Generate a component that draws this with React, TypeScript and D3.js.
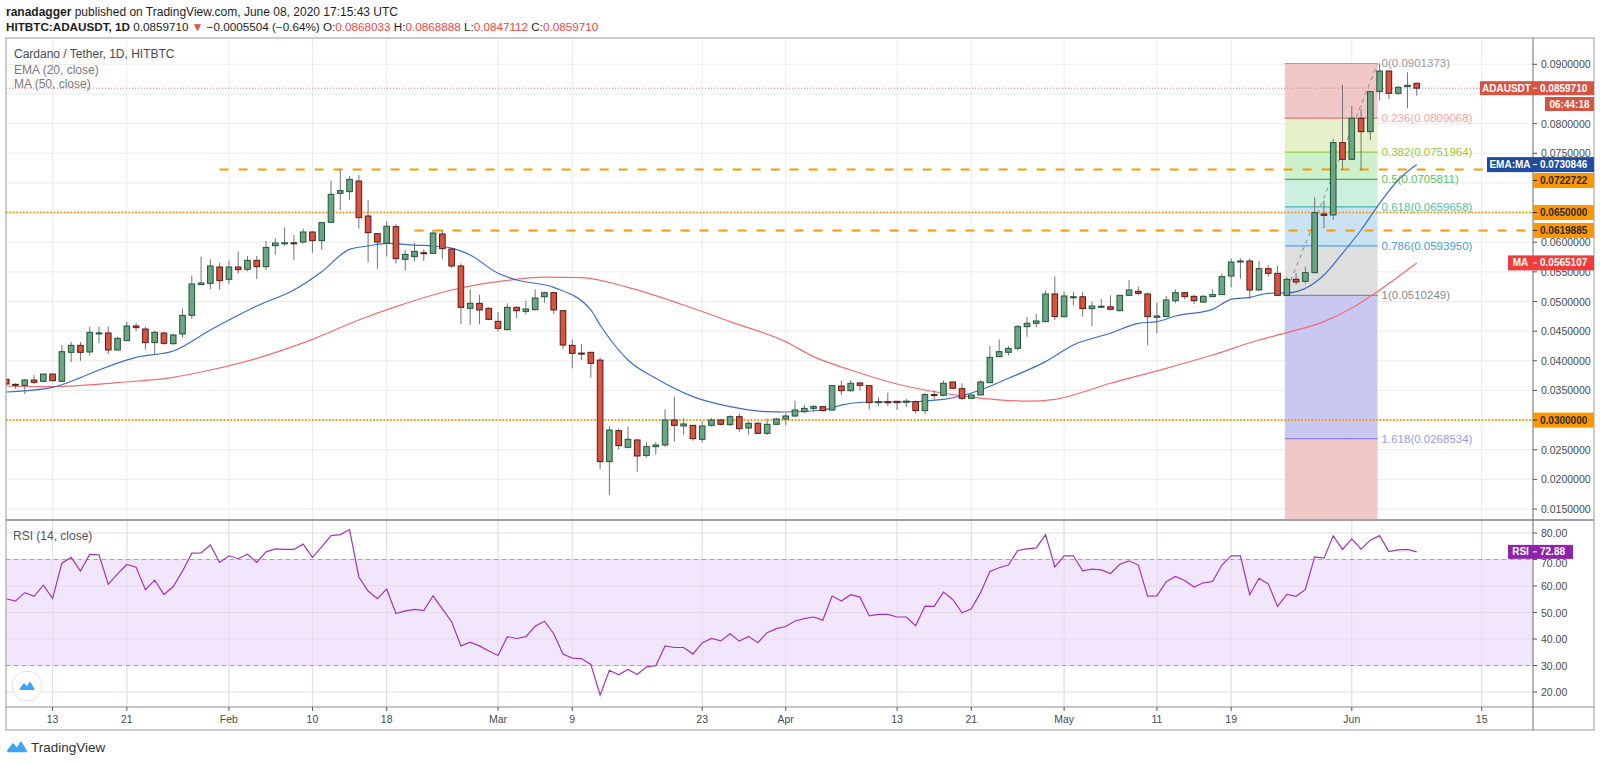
import React from 'react';
import * as d3 from 'd3';

// ---------- DATA ----------
const START = Date.UTC(2020, 0, 8);
const DAY = 86400000;

const open = [
  0.03687, 0.03603, 0.03586, 0.03676, 0.03654, 0.03777, 0.03654, 0.04143, 0.04261, 0.04149,
  0.04465, 0.04469, 0.04182, 0.0434, 0.04587, 0.04536, 0.04306, 0.04469, 0.04289, 0.04452,
  0.04767, 0.05284, 0.05306, 0.05582, 0.05374, 0.05582, 0.05543, 0.05694, 0.05587, 0.05941,
  0.0598, 0.0599, 0.06003, 0.06172, 0.06026, 0.06335, 0.06824, 0.06852, 0.07032, 0.06442,
  0.06144, 0.05986, 0.06262, 0.05711, 0.05756, 0.05823, 0.05812, 0.06138, 0.05885, 0.05599,
  0.04885, 0.04969, 0.04885, 0.04666, 0.04525, 0.04902, 0.04834, 0.04862, 0.05081, 0.05149,
  0.04845, 0.04261, 0.0413, 0.04143, 0.04012, 0.02299, 0.02822, 0.02541, 0.02665, 0.02401,
  0.02552, 0.0258, 0.03002, 0.02901, 0.02912, 0.02676, 0.02912, 0.03002, 0.02923, 0.03058,
  0.02867, 0.02946, 0.02777, 0.02929, 0.03018, 0.03069, 0.03142, 0.03198, 0.03227, 0.0317,
  0.03575, 0.03496, 0.03626, 0.03581, 0.03305, 0.0331, 0.03317, 0.033, 0.0331, 0.0316,
  0.0343, 0.03418, 0.03643, 0.0353, 0.03367, 0.03424, 0.03632, 0.0407, 0.04143, 0.0421,
  0.04576, 0.04632, 0.0466, 0.05127, 0.04745, 0.0507, 0.0508, 0.0488, 0.0491, 0.0491,
  0.04846, 0.05104, 0.05172, 0.05127, 0.04733, 0.04745, 0.05014, 0.05149, 0.05087, 0.0499,
  0.05082, 0.05116, 0.0543, 0.05677, 0.05683, 0.05194, 0.05554, 0.05475, 0.05104, 0.05374,
  0.0534, 0.05486, 0.06476, 0.06459, 0.07679, 0.07398, 0.08089, 0.07864, 0.08539, 0.08887,
  0.08511, 0.08623, 0.0868033,
];
const high = [
  0.037, 0.0362, 0.03688, 0.0376, 0.0378, 0.0378, 0.04266, 0.04317, 0.04317, 0.04576,
  0.04576, 0.04576, 0.04407, 0.0466, 0.04632, 0.04576, 0.04508, 0.04491, 0.04452, 0.04879,
  0.05441, 0.05756, 0.05711, 0.05655, 0.05689, 0.05846, 0.05767, 0.05767, 0.0602, 0.06065,
  0.06251, 0.06121, 0.06228, 0.06183, 0.0633, 0.07038, 0.07229, 0.07116, 0.07133, 0.06712,
  0.0615, 0.06352, 0.06307, 0.05868, 0.05992, 0.0588, 0.06206, 0.06206, 0.05902, 0.05644,
  0.05205, 0.05115, 0.049, 0.04823, 0.04969, 0.04913, 0.05014, 0.05205, 0.05166, 0.0516,
  0.04857, 0.04362, 0.04283, 0.0415, 0.04057, 0.029, 0.02856, 0.02889, 0.02676, 0.02625,
  0.02625, 0.03182, 0.03395, 0.03035, 0.02915, 0.0298, 0.03035, 0.0302, 0.0308, 0.03114,
  0.0298, 0.02968, 0.03024, 0.03035, 0.03114, 0.03328, 0.03255, 0.03255, 0.03238, 0.03592,
  0.03665, 0.03676, 0.03643, 0.0359, 0.03384, 0.03463, 0.0332, 0.0336, 0.0333, 0.0345,
  0.035, 0.03666, 0.0365, 0.03621, 0.0343, 0.03677, 0.0425, 0.04362, 0.0425, 0.04604,
  0.04745, 0.04789, 0.05183, 0.05419, 0.05166, 0.05166, 0.05166, 0.04997, 0.05042, 0.05104,
  0.05104, 0.05363, 0.0525, 0.0515, 0.0498, 0.05093, 0.05205, 0.0516, 0.0511, 0.0511,
  0.05206, 0.05475, 0.05728, 0.05728, 0.05728, 0.05683, 0.0561, 0.05599, 0.05408, 0.0548,
  0.05588, 0.06757, 0.06701, 0.07746, 0.08651, 0.08297, 0.08241, 0.08539, 0.0901373, 0.0889,
  0.08634, 0.08865, 0.0868888,
];
const low = [
  0.0359, 0.0353, 0.0344, 0.0361, 0.0365, 0.0365, 0.0365, 0.0398, 0.04, 0.0409,
  0.043, 0.0411, 0.0418, 0.0434, 0.045, 0.0419, 0.0411, 0.0427, 0.0427, 0.0439,
  0.0471, 0.0528, 0.0521, 0.052, 0.0529, 0.0547, 0.0551, 0.0538, 0.0553, 0.0579,
  0.0594, 0.057, 0.0598, 0.0582, 0.0587, 0.0633, 0.0654, 0.0671, 0.0623, 0.0566,
  0.0555, 0.0576, 0.0564, 0.0552, 0.0568, 0.0568, 0.0581, 0.0572, 0.0557, 0.04621,
  0.04604, 0.04621, 0.04688, 0.04491, 0.0452, 0.0472, 0.0478, 0.0485, 0.0498, 0.0479,
  0.04199, 0.03873, 0.04014, 0.03716, 0.0217, 0.01737, 0.02507, 0.02524, 0.0213, 0.02372,
  0.0242, 0.02552, 0.02636, 0.02755, 0.02653, 0.02625, 0.0289, 0.02912, 0.02901, 0.02805,
  0.02755, 0.02766, 0.0275, 0.02917, 0.02912, 0.03058, 0.03114, 0.03142, 0.03148, 0.03159,
  0.03423, 0.03479, 0.03496, 0.0318, 0.03238, 0.03238, 0.0317, 0.0322, 0.0311, 0.031,
  0.0335, 0.034, 0.03519, 0.0334, 0.0335, 0.0342, 0.0362, 0.0407, 0.04093, 0.04171,
  0.04407, 0.04565, 0.0466, 0.04688, 0.04733, 0.04936, 0.04745, 0.04587, 0.0489, 0.04846,
  0.0483, 0.05093, 0.05104, 0.04261, 0.04464, 0.0474, 0.0497, 0.05037, 0.04958, 0.0498,
  0.0508, 0.0511, 0.05239, 0.05385, 0.05037, 0.05183, 0.05419, 0.05093, 0.0510249, 0.0528,
  0.053, 0.0548, 0.06234, 0.06375, 0.07218, 0.0739, 0.07207, 0.07724, 0.08387, 0.0841,
  0.08483, 0.08258, 0.0847112,
];
const close = [
  0.03609, 0.03586, 0.03676, 0.03637, 0.03777, 0.03665, 0.04154, 0.04261, 0.04143, 0.0448,
  0.0447, 0.04182, 0.04379, 0.04587, 0.04559, 0.04306, 0.0448, 0.04295, 0.04435, 0.04767,
  0.05295, 0.05312, 0.05599, 0.05352, 0.05582, 0.05537, 0.05694, 0.05587, 0.05913, 0.05986,
  0.0599, 0.05985, 0.06172, 0.06026, 0.0633, 0.06807, 0.06869, 0.0706, 0.06414, 0.06161,
  0.06003, 0.06268, 0.05722, 0.05795, 0.05846, 0.05807, 0.06155, 0.05891, 0.05599, 0.04902,
  0.04969, 0.04857, 0.04699, 0.04547, 0.04902, 0.04845, 0.04874, 0.05059, 0.05149, 0.04857,
  0.04266, 0.04126, 0.0412, 0.03957, 0.02299, 0.02833, 0.02569, 0.02676, 0.02395, 0.02552,
  0.0258, 0.03002, 0.02912, 0.02935, 0.02687, 0.02901, 0.03002, 0.02929, 0.03058, 0.02856,
  0.02946, 0.02777, 0.02929, 0.03018, 0.03069, 0.0317, 0.03198, 0.03227, 0.03159, 0.03581,
  0.03496, 0.0362, 0.03586, 0.03294, 0.03311, 0.03305, 0.03294, 0.0332, 0.0316, 0.0343,
  0.0342, 0.03621, 0.03536, 0.03367, 0.03424, 0.03643, 0.04059, 0.04154, 0.0421, 0.04576,
  0.04632, 0.04671, 0.05127, 0.04745, 0.05093, 0.0508, 0.0488, 0.04924, 0.0492, 0.04869,
  0.05104, 0.05194, 0.05138, 0.04745, 0.04756, 0.05026, 0.05149, 0.05082, 0.05014, 0.05087,
  0.05116, 0.05419, 0.05666, 0.05683, 0.05194, 0.05554, 0.05475, 0.05104, 0.05374, 0.05329,
  0.05486, 0.06498, 0.06453, 0.07679, 0.07398, 0.08089, 0.07864, 0.08539, 0.08887, 0.08511,
  0.08612, 0.08645, 0.085971,
];
const rsi = [
  55.2, 54.3, 57.5, 56.1, 60.3, 55.3, 68.6, 70.8, 65.6, 71.9,
  71.8, 60.6, 64.6, 68.1, 67.1, 58.6, 62.2, 56.8, 59.8, 65.6,
  72.4, 72.5, 75.5, 68.9, 71.4, 70.3, 72.0, 68.9, 72.9, 74.0,
  73.8, 73.8, 75.8, 70.8, 74.8, 79.0, 79.4, 81.3, 63.4, 58.1,
  55.2, 58.8, 49.6, 50.6, 51.2, 50.7, 56.3, 51.4, 46.5, 37.4,
  38.8, 37.4, 35.5, 33.8, 40.9, 40.2, 40.9, 44.8, 46.7, 42.0,
  34.3, 32.8, 32.6, 30.4, 18.8, 28.2, 26.5, 28.5, 26.6, 29.5,
  29.9, 37.4, 36.8, 36.8, 34.3, 38.5, 40.2, 39.3, 42.0, 39.2,
  41.0, 38.6, 42.4, 43.9, 44.7, 46.8, 47.7, 48.3, 47.1, 56.2,
  54.3, 56.7, 55.8, 48.7, 49.3, 49.3, 48.3, 48.3, 45.0, 52.4,
  52.3, 57.7, 54.9, 49.9, 51.4, 57.5, 65.5, 66.9, 67.9, 73.4,
  74.0, 74.4, 79.4, 67.2, 71.4, 71.4, 65.7, 66.4, 66.1, 64.7,
  68.2, 69.5, 67.9, 56.2, 56.3, 61.6, 63.6, 62.1, 59.6, 61.2,
  61.7, 67.9, 71.4, 71.4, 56.7, 62.9, 60.8, 52.3, 56.8, 56.1,
  58.7, 71.0, 70.5, 78.9, 73.8, 77.8, 73.9, 77.3, 79.0, 73.0,
  73.6, 73.8, 72.88,
];
// EMA(20): day index and value
const emaDay = [0, 5, 8, 10, 14, 18, 22, 27, 31, 34, 37, 39, 41, 44, 46, 48, 50, 53, 55, 59, 63, 64, 67, 70, 74, 78, 82, 84, 88, 90, 93, 96, 101, 105, 108, 112, 115, 119, 122, 124, 126, 130, 132, 134, 136, 138, 140, 142, 144, 146, 148, 150, 152];
const emaVal = [0.03474, 0.03553, 0.03716, 0.03845, 0.04058, 0.04165, 0.0452, 0.04924, 0.05194, 0.05503, 0.0588, 0.05936, 0.05981, 0.0595, 0.05936, 0.059, 0.05784, 0.05475, 0.05363, 0.05239, 0.04857, 0.04604, 0.04014, 0.03704, 0.03395, 0.03227, 0.03142, 0.03137, 0.0317, 0.03254, 0.03305, 0.03305, 0.03351, 0.03508, 0.03705, 0.03986, 0.04267, 0.04464, 0.04632, 0.0466, 0.04756, 0.04868, 0.05037, 0.05071, 0.05138, 0.05145, 0.05222, 0.05447, 0.05813, 0.06206, 0.06656, 0.07049, 0.0730846];
// MA(50)
const maDay = [0, 5, 12, 18, 22, 27, 33, 38, 42, 48, 53, 58, 62, 67, 73, 78, 84, 87, 91, 96, 99, 103, 107, 110, 113, 119, 125, 130, 135, 138, 142, 145, 148, 152];
const maVal = [0.03575, 0.03564, 0.03631, 0.03721, 0.03845, 0.04042, 0.04362, 0.04688, 0.04913, 0.05194, 0.05335, 0.0541, 0.05402, 0.05239, 0.04941, 0.0466, 0.04323, 0.0407, 0.03845, 0.03609, 0.03508, 0.03407, 0.0334, 0.0332, 0.03351, 0.03621, 0.03873, 0.04098, 0.04351, 0.04474, 0.0466, 0.0489, 0.05194, 0.0565107];

const xTickDates = ['2020-01-13', '2020-01-21', '2020-02-01', '2020-02-10', '2020-02-18', '2020-03-01', '2020-03-09', '2020-03-23', '2020-04-01', '2020-04-13', '2020-04-21', '2020-05-01', '2020-05-11', '2020-05-19', '2020-06-01', '2020-06-15'];
const xTickLabels = ['13', '21', 'Feb', '10', '18', 'Mar', '9', '23', 'Apr', '13', '21', 'May', '11', '19', 'Jun', '15'];
const priceTicks = [0.015, 0.02, 0.025, 0.03, 0.035, 0.04, 0.045, 0.05, 0.055, 0.06, 0.065, 0.07, 0.075, 0.08, 0.085, 0.09];
const rsiTicks = [20, 30, 40, 50, 60, 70, 80];
const fibLevels = ['0', '0.236', '0.382', '0.5', '0.618', '0.786', '1', '1.618'];
const fibPrices = [0.0901373, 0.0809068, 0.0751964, 0.0705811, 0.0659658, 0.059395, 0.0510249, 0.0268534];
const lastPrice = 0.085971;
const emaLast = 0.0730846;
const maLast = 0.0565107;
const rsiLast = 72.88;
const srLevels = [0.0722722, 0.065, 0.0619885, 0.03];

// ---------- LAYOUT ----------
const W = 1600, H = 763;
const L = 6, R = 1594, AX = 1533, TOP = 38, SEP = 520, XAX = 707, BOT = 730;
const FONT = '"Liberation Sans", Arial, sans-serif';

const dayDate = (i: number) => new Date(START + i * DAY);
const x = d3.scaleUtc().domain([new Date(Date.UTC(2020, 0, 13)), new Date(Date.UTC(2020, 5, 15))]).range([52.6, 1481.7]);
const yP = d3.scaleLinear().domain([0.015, 0.09]).range([509.05, 64.3]);
const yR = d3.scaleLinear().domain([20, 80]).range([692, 533]);

const fmtP = (v: number) => v.toFixed(7);

const UP = '#6ba583', DOWN = '#d75442', UPB = '#225437', DOWNB = '#5b1a13', WICK = '#737375';

const fibLine = ['#a0a0a0', '#e57373', '#9ccc3c', '#4caf50', '#4db6ac', '#42a5f5', '#8a8a8a', '#7070d8'];
const fibText = ['#9a9a9a', '#f2a4a4', '#9cc53c', '#58c458', '#4cc3a0', '#45a0dd', '#8a8a8a', '#9a9ae8'];
const fibFill = ['#f0c2c2', '#e3efc6', '#c8eec8', '#c6eedc', '#c4e0f2', '#dadada', '#c2c2f2', '#f0c2c2'];

const ORANGE_BOX_Y = 180.5; // 0.0722722 box pushed below the EMA:MA box

function AxisBox({ y, x0, x1 = R, label, value, bg, fg = '#fff', h = 15 }: any) {
  return (
    <g>
      <rect x={x0} y={y - h / 2} width={x1 - x0} height={h} fill={bg} />
      {label && (
        <text x={(x0 + AX) / 2} y={y + 3.6} fill={fg} fontSize={10} textAnchor="middle" fontWeight="bold">{label}</text>
      )}
      <line x1={AX} x2={AX + 4} y1={y} y2={y} stroke={fg} />
      <text x={AX + 7} y={y + 3.6} fill={fg} fontSize={10} fontWeight="bold">{value}</text>
    </g>
  );
}

function Logo({ cx, cy, s }: any) {
  return (
    <path
      d={`M${cx - 11 * s},${cy + 5 * s} L${cx - 5 * s},${cy - 3 * s} L${cx},${cy + 3 * s} L${cx + 5 * s},${cy - 5 * s} L${cx + 11 * s},${cy + 5 * s} Z`}
      fill="#3fa3f4"
      stroke="#3fa3f4"
      strokeWidth={3 * s}
      strokeLinejoin="round"
    />
  );
}

export default function App() {
  const n = open.length;
  const bw = 5.6;
  const candles = d3.range(n).map((i) => {
    const cx = x(dayDate(i));
    const up = close[i] >= open[i];
    const yt = yP(Math.max(open[i], close[i]));
    const yb = yP(Math.min(open[i], close[i]));
    return (
      <g key={i}>
        <line x1={cx} x2={cx} y1={yP(high[i])} y2={yP(low[i])} stroke={WICK} strokeWidth={1} />
        <rect x={cx - bw / 2} y={yt} width={bw} height={Math.max(1, yb - yt)} fill={up ? UP : DOWN} stroke={up ? UPB : DOWNB} strokeWidth={1} />
      </g>
    );
  });

  const emaPath = d3.line<number>().x((d, i) => x(dayDate(emaDay[i]))).y((d) => yP(d)).curve(d3.curveMonotoneX)(emaVal) || '';
  const maPath = d3.line<number>().x((d, i) => x(dayDate(maDay[i]))).y((d) => yP(d)).curve(d3.curveMonotoneX)(maVal) || '';
  const rsiPath = d3.line<number>().x((d, i) => x(dayDate(i))).y((d) => yR(d))(rsi) || '';

  const fibX0 = x(dayDate(138)) - 2;
  const fibX1 = x(dayDate(148)) - 2;

  const tickXs = xTickDates.map((s) => x(new Date(s + 'T00:00:00Z')));
  // axis tick labels hidden under the coloured price boxes (as in the reference)
  const boxYs = [yP(lastPrice), ORANGE_BOX_Y, yP(srLevels[1]), yP(srLevels[3])];
  const shownPriceTicks = priceTicks.filter((p) => !boxYs.some((c) => Math.abs(yP(p) - c) < 7));

  return (
    <svg width={W} height={H} style={{ position: 'absolute', left: 0, top: 0, background: '#fff' }} fontFamily={FONT}>
      <defs>
        <clipPath id="pclip"><rect x={L} y={TOP} width={AX - L} height={SEP - TOP} /></clipPath>
        <clipPath id="rclip"><rect x={L} y={SEP} width={AX - L} height={XAX - SEP} /></clipPath>
      </defs>
      <rect x={0} y={0} width={W} height={H} fill="#fff" />

      {/* header */}
      <text x={6} y={16} fontSize={12} fill="#1e1e1e">
        <tspan fontWeight="bold">ranadagger</tspan> published on TradingView.com, June 08, 2020 17:15:43 UTC
      </text>
      <text x={6} y={31} fontSize={11.7} fill="#1e1e1e">
        <tspan fontWeight="bold">HITBTC:ADAUSDT, 1D</tspan>
        <tspan> 0.0859710 </tspan>
        <tspan fill="#f0473f">▼</tspan>
        <tspan> −0.0005504 (−0.64%) O:</tspan>
        <tspan fill="#f0473f">0.0868033</tspan>
        <tspan> H:</tspan>
        <tspan fill="#f0473f">0.0868888</tspan>
        <tspan> L:</tspan>
        <tspan fill="#f0473f">0.0847112</tspan>
        <tspan> C:</tspan>
        <tspan fill="#f0473f">0.0859710</tspan>
      </text>

      {/* grid */}
      {tickXs.map((tx, i) => (
        <line key={'vg' + i} x1={tx} x2={tx} y1={TOP} y2={XAX} stroke="#ebebeb" />
      ))}
      {priceTicks.map((p) => (
        <line key={'hg' + p} x1={L} x2={AX} y1={yP(p)} y2={yP(p)} stroke="#ebebeb" />
      ))}

      {/* price pane */}
      <g clipPath="url(#pclip)">
        {fibPrices.map((p, i) => {
          const y0 = yP(p);
          const y1 = i < fibPrices.length - 1 ? yP(fibPrices[i + 1]) : SEP;
          return <rect key={'fz' + i} x={fibX0} y={y0} width={fibX1 - fibX0} height={y1 - y0} fill={fibFill[i]} opacity={0.9} />;
        })}
        {fibPrices.map((p, i) => (
          <line key={'fl' + i} x1={fibX0} x2={fibX1} y1={yP(p)} y2={yP(p)} stroke={fibLine[i]} strokeWidth={1.2} />
        ))}
        <line x1={fibX0} x2={fibX1} y1={yP(fibPrices[6])} y2={yP(fibPrices[0])} stroke="#8a8a8a" strokeDasharray="4,4" />
        {fibPrices.map((p, i) => (
          <text key={'ft' + i} x={fibX1 + 4} y={yP(p) + 4} fontSize={11.5} fill={fibText[i]}>{`${fibLevels[i]}(${fmtP(p)})`}</text>
        ))}

        <line x1={L} x2={AX} y1={yP(lastPrice)} y2={yP(lastPrice)} stroke="#e57373" strokeDasharray="1,2" />
        <line x1={x(dayDate(23))} x2={AX} y1={yP(srLevels[0])} y2={yP(srLevels[0])} stroke="#ff9800" strokeWidth={2} strokeDasharray="9,10" />
        <line x1={L} x2={AX} y1={yP(srLevels[1])} y2={yP(srLevels[1])} stroke="#ff9800" strokeWidth={2} strokeDasharray="1.6,1.8" />
        <line x1={x(dayDate(44))} x2={AX} y1={yP(srLevels[2])} y2={yP(srLevels[2])} stroke="#ff9800" strokeWidth={2} strokeDasharray="9,10" />
        <line x1={L} x2={AX} y1={yP(srLevels[3])} y2={yP(srLevels[3])} stroke="#ff9800" strokeWidth={2} strokeDasharray="1.6,1.8" />

        <path d={maPath} fill="none" stroke="#f26d6d" strokeWidth={1.2} />
        <path d={emaPath} fill="none" stroke="#3c6ec8" strokeWidth={1.2} />
        {candles}
      </g>

      {/* legend */}
      <text x={14} y={58} fontSize={12} fill="#4a4a4a">Cardano / Tether, 1D, HITBTC</text>
      <text x={14} y={74} fontSize={12} fill="#7a7a7a">EMA (20, close)</text>
      <text x={14} y={88} fontSize={12} fill="#7a7a7a">MA (50, close)</text>

      {/* RSI pane */}
      <g clipPath="url(#rclip)">
        <rect x={L} y={yR(70)} width={AX - L} height={yR(30) - yR(70)} fill="#f2e6fd" />
        {rsiTicks.map((r) => (
          <line key={'rg' + r} x1={L} x2={AX} y1={yR(r)} y2={yR(r)} stroke="#e4dbe9" />
        ))}
        {tickXs.map((tx, i) => (
          <line key={'rvg' + i} x1={tx} x2={tx} y1={SEP} y2={XAX} stroke="#e4dbe9" />
        ))}
        <line x1={L} x2={AX} y1={yR(70)} y2={yR(70)} stroke="#a8a0ab" strokeDasharray="4,4" />
        <line x1={L} x2={AX} y1={yR(30)} y2={yR(30)} stroke="#a8a0ab" strokeDasharray="4,4" />
        <path d={rsiPath} fill="none" stroke="#a433b8" strokeWidth={1.2} />
      </g>
      <text x={13} y={540} fontSize={12} fill="#555">RSI (14, close)</text>
      <circle cx={27} cy={686} r={15} fill="#fff" stroke="#e2e2e2" />
      <Logo cx={27} cy={686} s={0.6} />

      {/* frame & axes */}
      <rect x={L} y={TOP} width={R - L} height={BOT - TOP} fill="none" stroke="#9a9a9a" />
      <line x1={L} x2={R} y1={SEP} y2={SEP} stroke="#a0a0a0" strokeWidth={2} />
      <line x1={L} x2={R} y1={XAX} y2={XAX} stroke="#8a8a8a" />
      <line x1={AX} x2={AX} y1={TOP} y2={BOT} stroke="#6a6a6a" />

      {tickXs.map((tx, i) => (
        <g key={'xt' + i}>
          <line x1={tx} x2={tx} y1={XAX} y2={XAX + 4} stroke="#555" />
          <text x={tx} y={723} fontSize={10.5} fill="#4a4a4a" textAnchor="middle">{xTickLabels[i]}</text>
        </g>
      ))}
      {priceTicks.map((p) => (
        <line key={'ptl' + p} x1={AX} x2={AX + 4} y1={yP(p)} y2={yP(p)} stroke="#555" />
      ))}
      {shownPriceTicks.map((p) => (
        <text key={'pt' + p} x={AX + 8} y={yP(p) + 4} fontSize={10.5} fill="#4a4a4a">{fmtP(p)}</text>
      ))}
      {rsiTicks.map((r) => (
        <g key={'rt' + r}>
          <line x1={AX} x2={AX + 4} y1={yR(r)} y2={yR(r)} stroke="#555" />
          <text x={AX + 8} y={yR(r) + (r === 70 ? 7 : 4)} fontSize={10.5} fill="#4a4a4a">{r.toFixed(2)}</text>
        </g>
      ))}

      {/* axis labels */}
      <AxisBox y={yP(lastPrice)} x0={1480} label="ADAUSDT" value={fmtP(lastPrice)} bg="#d75442" h={14} />
      <rect x={1545} y={97} width={R - 1545} height={14} fill="#d75442" />
      <text x={1569.5} y={107.8} fontSize={10} fill="#fff" fontWeight="bold" textAnchor="middle">06:44:18</text>
      <AxisBox y={yP(emaLast)} x0={1487} label="EMA:MA" value={fmtP(emaLast)} bg="#1f4c9e" />
      <AxisBox y={ORANGE_BOX_Y} x0={AX} value={fmtP(srLevels[0])} bg="#ff9800" fg="#2a2a2a" />
      <AxisBox y={yP(srLevels[1])} x0={AX} value={fmtP(srLevels[1])} bg="#ff9800" fg="#2a2a2a" />
      <AxisBox y={yP(srLevels[2])} x0={AX} value={fmtP(srLevels[2])} bg="#ff9800" fg="#2a2a2a" />
      <AxisBox y={yP(maLast)} x0={1508} label="MA" value={fmtP(maLast)} bg="#f23b3b" />
      <AxisBox y={yP(srLevels[3])} x0={AX} value={fmtP(srLevels[3])} bg="#ff9800" fg="#2a2a2a" />
      <AxisBox y={yR(rsiLast)} x0={1508} x1={1573} label="RSI" value={rsiLast.toFixed(2)} bg="#8e24aa" h={14} />

      {/* footer */}
      <Logo cx={17} cy={747} s={0.8} />
      <text x={31} y={752} fontSize={13.5} fill="#333">TradingView</text>
    </svg>
  );
}
